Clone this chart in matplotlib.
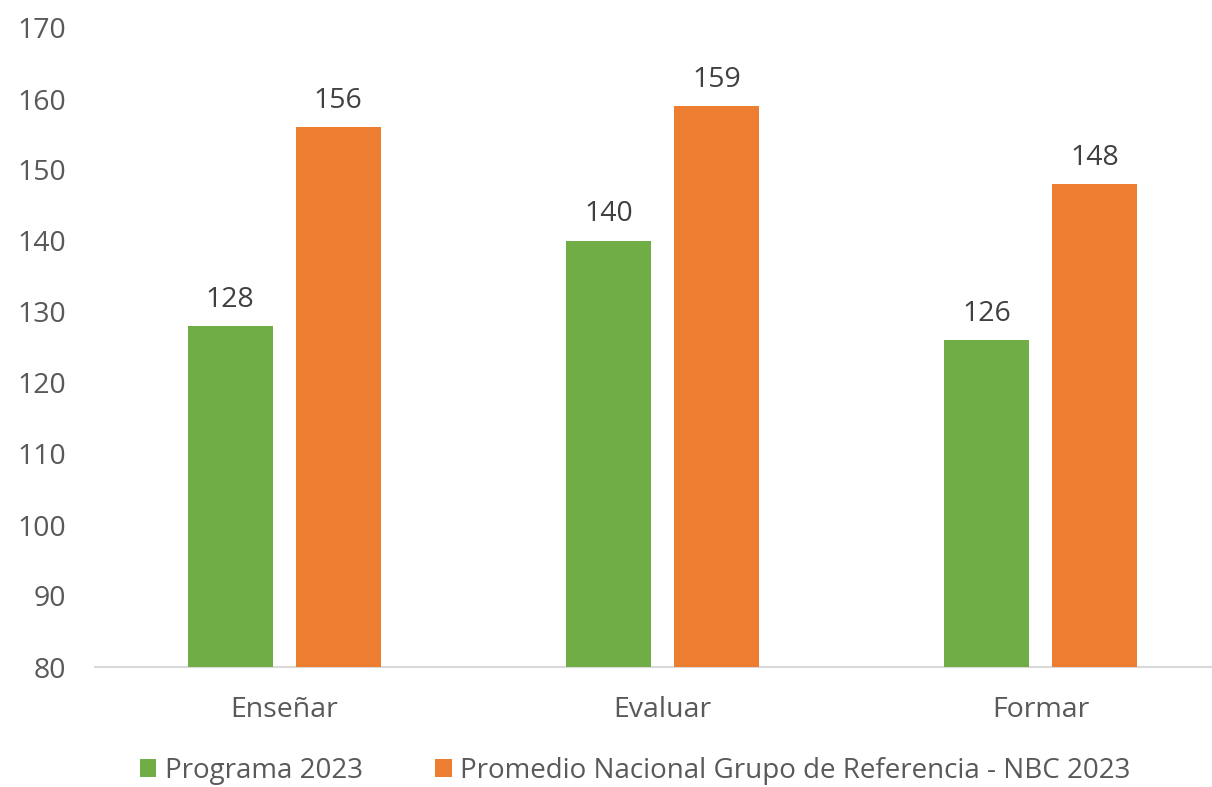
import matplotlib
matplotlib.use("Agg")
import matplotlib.pyplot as plt
from matplotlib.patches import Patch
import numpy as np

# --- datos ---
categorias = ["Enseñar", "Evaluar", "Formar"]
programa_2023 = [128, 140, 126]
promedio_nbc_2023 = [156, 159, 148]
series_labels = ["Programa 2023", "Promedio Nacional Grupo de Referencia - NBC 2023"]
y_ticks = [80, 90, 100, 110, 120, 130, 140, 150, 160, 170]

VERDE = "#70AD47"
NARANJA = "#ED7D31"
GRIS_TXT = "#595959"
GRIS_LBL = "#404040"

plt.rcParams['font.family'] = ['Open Sans', 'DejaVu Sans']

W, H = 1212, 787
fig = plt.figure(figsize=(W / 100, H / 100), dpi=100)
fig.patch.set_facecolor("white")
ax = fig.add_axes([95 / W, 1 - 667 / H, 1 - 95 / W, (667 - 28) / H])
ax.set_facecolor("none")

x = np.arange(len(categorias))
ancho = 0.2245
desp = 0.1426
b1 = ax.bar(x - desp, programa_2023, ancho, color=VERDE, zorder=3)
b2 = ax.bar(x + desp, promedio_nbc_2023, ancho, color=NARANJA, zorder=3)

for barras in (b1, b2):
    for r in barras:
        ax.annotate(f"{int(r.get_height())}", (r.get_x() + r.get_width() / 2, r.get_height()),
                    xytext=(0, 9), textcoords="offset points", ha="center", va="bottom",
                    fontsize=20.5, color=GRIS_LBL)

ax.set_ylim(80, 170)
ax.set_xlim(-0.5, 2.5 - 18 / 378.7)
ax.set_yticks(y_ticks)
ax.set_xticks(x)
ax.set_xticklabels(categorias)
ax.tick_params(axis="y", length=0, pad=21, labelsize=20.5, labelcolor=GRIS_TXT)
ax.tick_params(axis="x", length=0, pad=21, labelsize=20.5, labelcolor=GRIS_TXT)
for s in ("top", "right", "left"):
    ax.spines[s].set_visible(False)
ax.spines["bottom"].set_color("#D9D9D9")
ax.spines["bottom"].set_linewidth(1.5)

handles = [Patch(facecolor=VERDE, label=series_labels[0]),
           Patch(facecolor=NARANJA, label=series_labels[1])]
fig.legend(handles=handles, loc="center", bbox_to_anchor=(635 / W, 1 - 771 / H), ncol=2,
           frameon=False, fontsize=20, labelcolor=GRIS_TXT, handlelength=0.6, handleheight=0.6,
           handletextpad=0.3, columnspacing=2.6)

fig.savefig("out.png", dpi=100, facecolor="white")
